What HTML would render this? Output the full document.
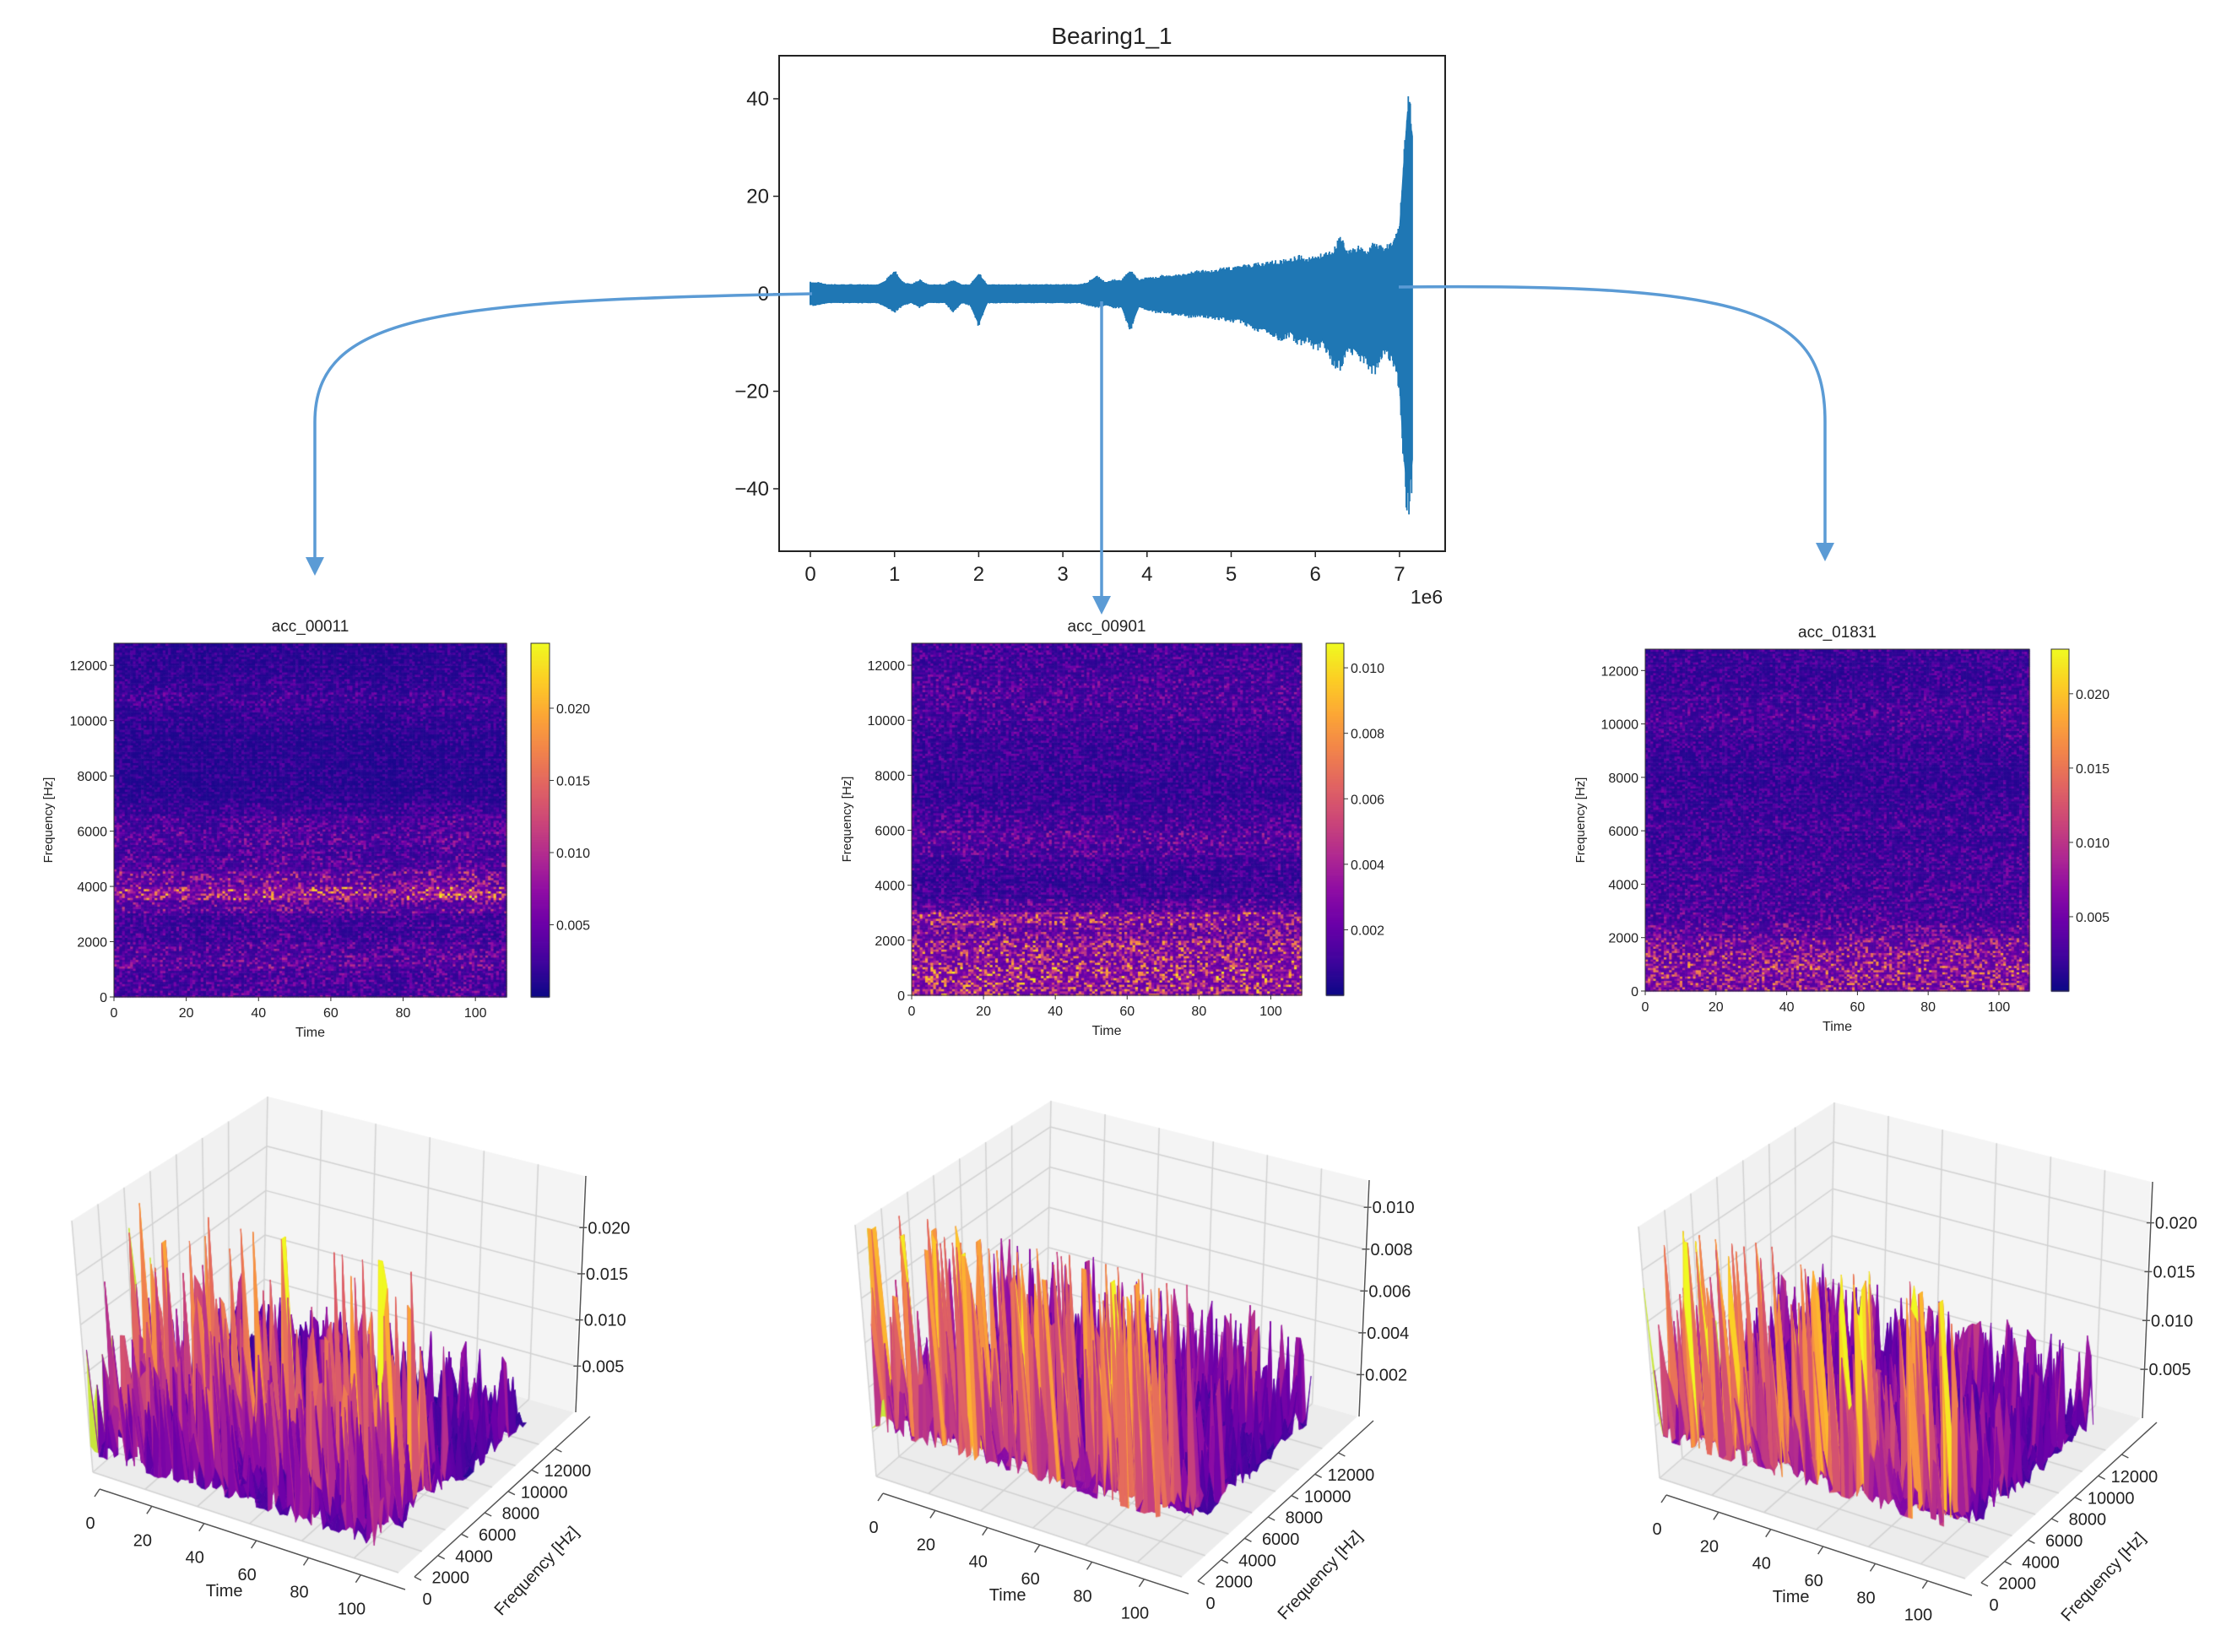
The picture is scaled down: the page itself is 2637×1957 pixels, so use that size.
<!DOCTYPE html>
<html><head><meta charset="utf-8">
<style>
html,body{margin:0;padding:0;background:#fff;}
#wrap{position:relative;width:2637px;height:1957px;overflow:hidden;}
canvas,svg{position:absolute;left:0;top:0;}
text{font-family:"Liberation Sans","DejaVu Sans",sans-serif;fill:#222;}
</style></head>
<body>
<div id="wrap">
<canvas id="cv" width="2637" height="1957"></canvas>
<svg id="sv" width="2637" height="1957" viewBox="0 0 2637 1957"></svg>
</div>
<script>
// ---------- DATA ----------
const sigX     = [0,0.1,0.2,0.3,0.4,0.5,0.6,0.7,0.8,0.9,1.0,1.1,1.2,1.3,1.4,1.5,1.6,1.7,1.8,1.9,2.0,2.1,2.2,2.3,2.4,2.5,2.6,2.7,2.8,2.9,3.0,3.1,3.2,3.3,3.4,3.5,3.6,3.7,3.8,3.9,4.0,4.1,4.2,4.3,4.4,4.5,4.6,4.7,4.8,4.9,5.0,5.1,5.2,5.3,5.4,5.5,5.6,5.7,5.8,5.9,6.0,6.1,6.2,6.3,6.4,6.5,6.6,6.7,6.8,6.9,7.0,7.05,7.1,7.15];
const sigUpper = [2.5,2.5,2,2,2,2,2,2,2,3,5,2.5,2,3,2,2,2,3,2,2,4.5,2,2,2,2,2,2,2,2,2,2,2,2,2.5,4,2.5,3,3,5,3,3.5,3.5,4,4,4,4.5,5,5,5,5.5,5.5,6,6,6.5,6.5,7,7,7.5,8,7.5,8,8.5,9,12,9,10,9,11,10,11,14,30,44,38];
const sigLower = [-2.5,-2.5,-2,-2,-2,-2,-2,-2,-2,-3,-4,-2.5,-2,-3,-2,-2,-2,-4,-2,-2.5,-7,-2,-2,-2,-2,-2,-2,-2,-2,-2,-2,-2,-2,-2.5,-3,-2.5,-3,-3,-8,-3,-3.5,-4,-4,-4.5,-4.5,-5,-5,-5,-5.5,-5.5,-6,-6,-7,-8,-8,-9,-10,-9,-11,-10,-12,-11,-15,-16,-12,-14,-15,-17,-13,-14,-20,-38,-48,-40];
const sigXTicks = [0,1,2,3,4,5,6,7];
const sigYTicks = [40,20,0,-20,-40];

// spectrogram band means (500 Hz bands, 0..13000)
const specProfile1 = [0.0035,0.0035,0.0045,0.004,0.003,0.003,0.005,0.0095,0.006,0.004,0.0035,0.004,0.0035,0.0025,0.0018,0.0016,0.0016,0.0016,0.0016,0.0018,0.0022,0.0028,0.0022,0.0018,0.0017,0.0017];
const specProfile2 = [0.0042,0.0045,0.004,0.004,0.003,0.0038,0.0018,0.0012,0.0011,0.0013,0.0017,0.0019,0.0015,0.0012,0.001,0.001,0.0011,0.0011,0.0011,0.0013,0.0015,0.0016,0.0016,0.0014,0.0013,0.0013];
const specProfile3 = [0.0075,0.008,0.0075,0.0065,0.0045,0.0035,0.003,0.0032,0.0028,0.0028,0.0028,0.0024,0.0028,0.0024,0.0022,0.0022,0.0022,0.0022,0.0024,0.0028,0.0032,0.0028,0.0025,0.0024,0.0024,0.0024];
const specTime1 = [1,1,0.9,1,1.1,1,1,0.9,1,1.1,1];
const specTime2 = [1,1,1,1,1,1,1,1,1,1,1];
const specTime3 = [1,1,1,1,1,1,1,1,1,1,1.05];
const cbTicks1 = [0.005,0.010,0.015,0.020];
const cbTicks2 = [0.002,0.004,0.006,0.008,0.010];
const cbTicks3 = [0.005,0.010,0.015,0.020];
const freqTicks = [0,2000,4000,6000,8000,10000,12000];
const timeTicks = [0,20,40,60,80,100];
const specTitles = ["acc_00011","acc_00901","acc_01831"];

// ---------- helpers ----------
const NS="http://www.w3.org/2000/svg";
const sv=document.getElementById('sv');
const ctx=document.getElementById('cv').getContext('2d');
function mk(tag,attrs,parent){const e=document.createElementNS(NS,tag);for(const k in attrs)e.setAttribute(k,attrs[k]);(parent||sv).appendChild(e);return e;}
function txt(x,y,s,size,anchor,name,extra){
  const e=mk('text',{x:x,y:y,'font-size':size,'text-anchor':anchor||'middle'});
  
  
  if(extra)for(const k in extra)e.setAttribute(k,extra[k]);
  e.textContent=s;return e;}
const plasma=[[13,8,135],[65,4,157],[106,0,168],[143,13,164],[177,42,144],[204,71,120],[225,100,98],[242,132,75],[252,166,54],[252,206,37],[240,249,33]];
function cmap(v){v=Math.max(0,Math.min(1,v));const p=v*10,i=Math.min(9,Math.floor(p)),f=p-i;const a=plasma[i],b=plasma[i+1];
 return 'rgb('+Math.round(a[0]+(b[0]-a[0])*f)+','+Math.round(a[1]+(b[1]-a[1])*f)+','+Math.round(a[2]+(b[2]-a[2])*f)+')';}
function hash(i,j,s){const h=Math.sin(i*127.1+j*311.7+s*74.7)*43758.5453;return h-Math.floor(h);}
function grain(i,j,s){const u=hash(i,j,s);return 0.45+1.9*u*u*u;}
function grain3(i,j,s){const u=hash(i,j,s);return 0.45+3.2*Math.pow(u,5);}
function specVal(prof,tm,t,f){const b=Math.min(prof.length-1,Math.floor(f/500));const k=Math.min(tm.length-1,Math.floor(t/10));return prof[b]*tm[k];}
function interp(xs,ys,x){for(let i=1;i<xs.length;i++){if(x<=xs[i]){const f=(x-xs[i-1])/(xs[i]-xs[i-1]);return ys[i-1]+(ys[i]-ys[i-1])*f;}}return ys[ys.length-1];}

// ---------- top signal plot ----------
const TP={x0:923,y0:66,x1:1712,y1:653};
const px=v=>960+v*99.7, py=v=>348-v*5.775;
const gTop=mk('g',{});
let d='M'+px(sigX[0])+','+py(sigUpper[0]*0.85);
for(let i=1;i<sigX.length;i++)d+=' L'+px(sigX[i])+','+py(sigUpper[i]*0.85);
for(let i=sigX.length-1;i>=0;i--)d+=' L'+px(sigX[i])+','+py(sigLower[i]*0.85);
const sigPath=mk('path',{d:d+'Z',fill:'#1f77b4',stroke:'#1f77b4','stroke-width':2},gTop);


let dl='';
const xEnd=sigX[sigX.length-1];
for(let k=0;k*0.008<=xEnd;k++){const x=k*0.008;const g1=0.8+0.2*hash(k,1,9),g2=0.8+0.2*hash(k,2,9);
  dl+='M'+px(x).toFixed(1)+','+py(interp(sigX,sigUpper,x)*g1).toFixed(1)+'V'+py(interp(sigX,sigLower,x)*g2).toFixed(1);}
const sigLines=mk('path',{d:dl,fill:'none',stroke:'#1f77b4','stroke-width':1.8},gTop);


const fr=mk('rect',{x:TP.x0,y:TP.y0,width:TP.x1-TP.x0,height:TP.y1-TP.y0,fill:'none',stroke:'#222','stroke-width':2},gTop);


sigXTicks.forEach(v=>{mk('line',{x1:px(v),x2:px(v),y1:TP.y1,y2:TP.y1+7,stroke:'#222','stroke-width':1.5},gTop);
  txt(px(v),TP.y1+35,String(v),24,'middle','x-tick-label');});
sigYTicks.forEach(v=>{mk('line',{x1:TP.x0-7,x2:TP.x0,y1:py(v),y2:py(v),stroke:'#222','stroke-width':1.5},gTop);
  txt(TP.x0-12,py(v)+8,(v<0?'\u2212':'')+Math.abs(v),24,'end','y-tick-label');});
txt(1690,715,'1e6',23,'middle','x-offset-label');
txt(1317,52,'Bearing1_1',28,'middle','signal-title');

// ---------- spectrograms ----------
const specs=[
 {x:135,y:762,w:465,h:419,cbx:629,cbw:22,vmax:0.0245,prof:specProfile1,tm:specTime1,ticks:cbTicks1,ty:748,ylx:62,seed:1},
 {x:1080,y:762,w:462,h:417,cbx:1571,cbw:21,vmax:0.01075,prof:specProfile2,tm:specTime2,ticks:cbTicks2,ty:748,ylx:1008,seed:2},
 {x:1949,y:769,w:455,h:405,cbx:2430,cbw:21,vmax:0.023,prof:specProfile3,tm:specTime3,ticks:cbTicks3,ty:755,ylx:1877,seed:3}];
const T_MAX=108.6,F_MAX=12800;
specs.forEach((s,si)=>{
  const tx=t=>s.x+t/T_MAX*s.w, fy=f=>s.y+s.h-f/F_MAX*s.h;
  for(let ti=0;ti<145;ti++)for(let fi=0;fi<160;fi++){
    const t=ti*0.75,f=fi*80;
    const v=specVal(s.prof,s.tm,t,f)*grain(ti,fi,s.seed);
    ctx.fillStyle=cmap(v/s.vmax);
    const x0=tx(t),x1=tx(Math.min(T_MAX,t+0.75)),y1=fy(f),y0=fy(f+80);
    if(x0>=s.x+s.w)continue;
    ctx.fillRect(x0,y0,x1-x0+0.6,y1-y0+0.6);}
  for(let k=0;k<200;k++){ctx.fillStyle=cmap(k/199);ctx.fillRect(s.cbx,s.y+s.h-(k+1)*s.h/200,s.cbw,s.h/200+0.8);}
  const g=mk('g',{});
  mk('rect',{x:s.x,y:s.y,width:s.w,height:s.h,fill:'none',stroke:'#333','stroke-width':1},g);
  mk('rect',{x:s.cbx,y:s.y,width:s.cbw,height:s.h,fill:'none',stroke:'#333','stroke-width':1},g);
  timeTicks.forEach(t=>{mk('line',{x1:tx(t),x2:tx(t),y1:s.y+s.h,y2:s.y+s.h+5,stroke:'#333'},g);
    txt(tx(t),s.y+s.h+24,String(t),16,'middle','spec-time-tick');});
  freqTicks.forEach(f=>{mk('line',{x1:s.x-5,x2:s.x,y1:fy(f),y2:fy(f),stroke:'#333'},g);
    txt(s.x-8,fy(f)+6,String(f),16,'end','spec-freq-tick');});
  s.ticks.forEach(v=>{const y=s.y+s.h-v/s.vmax*s.h;mk('line',{x1:s.cbx+s.cbw,x2:s.cbx+s.cbw+5,y1:y,y2:y,stroke:'#333'},g);
    txt(s.cbx+s.cbw+8,y+6,v.toFixed(3),16,'start','colorbar-tick');});
  txt(s.x+s.w/2,s.ty,specTitles[si],19,'middle','spec-title');
  txt(s.x+s.w/2,s.y+s.h+47,'Time',16,'middle','spec-x-label');
  txt(s.ylx,s.y+s.h/2,'Frequency [Hz]',15,'middle','spec-y-label',{transform:'rotate(-90 '+s.ylx+' '+(s.y+s.h/2)+')'});
});

// ---------- 3D surfaces ----------
const base={F00:[110,1744],F10:[472,1863],F01:[312,1568],F11:[680,1673],T00:[85,1446],T10:[460,1540],T01:[317,1299],T11:[692,1393]};
const T3MAX=117,F3MAX=15000;
const p3=[
 {dx:0,dy:0,zmax:0.0256,cnorm:0.0165,prof:specProfile1,tm:specTime1,ticks:cbTicks1,hmul:1.15,seed:1},
 {dx:928,dy:5,zmax:0.0113,cnorm:0.0085,prof:specProfile2,tm:specTime2,ticks:cbTicks2,hmul:1.15,seed:2},
 {dx:1856,dy:7,zmax:0.0242,cnorm:0.0165,prof:specProfile3,tm:specTime3,ticks:cbTicks3,hmul:1.15,seed:3}];
function bil(A,B,C,D,u,v){return[(1-u)*(1-v)*A[0]+u*(1-v)*B[0]+(1-u)*v*C[0]+u*v*D[0],(1-u)*(1-v)*A[1]+u*(1-v)*B[1]+(1-u)*v*C[1]+u*v*D[1]];}
function P(c,t,f,z){const u=t/T3MAX,v=f/F3MAX,w=z/c.zmax;
  const b=bil(base.F00,base.F10,base.F01,base.F11,u,v),tp=bil(base.T00,base.T10,base.T01,base.T11,u,v);
  return[b[0]+(tp[0]-b[0])*w+c.dx,b[1]+(tp[1]-b[1])*w+c.dy];}
function poly(pts,fill,stroke,lw){ctx.beginPath();ctx.moveTo(pts[0][0],pts[0][1]);for(let i=1;i<pts.length;i++)ctx.lineTo(pts[i][0],pts[i][1]);ctx.closePath();
  if(fill){ctx.fillStyle=fill;ctx.fill();}if(stroke){ctx.strokeStyle=stroke;ctx.lineWidth=lw||1;ctx.stroke();}}
function seg(a,b,col,lw){ctx.beginPath();ctx.moveTo(a[0],a[1]);ctx.lineTo(b[0],b[1]);ctx.strokeStyle=col;ctx.lineWidth=lw||1;ctx.stroke();}
p3.forEach((c,ci)=>{
  const Z=c.zmax;
  poly([P(c,0,0,0),P(c,0,F3MAX,0),P(c,0,F3MAX,Z),P(c,0,0,Z)],'#f1f1f1');
  poly([P(c,0,F3MAX,0),P(c,T3MAX,F3MAX,0),P(c,T3MAX,F3MAX,Z),P(c,0,F3MAX,Z)],'#f4f4f4');
  poly([P(c,0,0,0),P(c,T3MAX,0,0),P(c,T3MAX,F3MAX,0),P(c,0,F3MAX,0)],'#ececec');
  const gc='#d2d2d2';
  timeTicks.forEach(t=>{seg(P(c,t,F3MAX,0),P(c,t,F3MAX,Z),gc,1.5);seg(P(c,t,0,0),P(c,t,F3MAX,0),gc,1.5);});
  freqTicks.forEach(f=>{seg(P(c,0,f,0),P(c,0,f,Z),gc,1.5);seg(P(c,0,f,0),P(c,T3MAX,f,0),gc,1.5);});
  c.ticks.forEach(z=>{seg(P(c,0,0,z),P(c,0,F3MAX,z),gc,1.5);seg(P(c,0,F3MAX,z),P(c,T3MAX,F3MAX,z),gc,1.5);});
  const nt=74,nf=43,H=[];
  for(let i=0;i<nt;i++){H[i]=[];for(let j=0;j<nf;j++){const t=i*1.5,f=j*300;
    H[i][j]=Math.min(Z*0.97,specVal(c.prof,c.tm,t,f)*c.hmul*grain3(i,j,c.seed+10));}}
  for(let j=nf-2;j>=0;j--)for(let i=0;i<nt-1;i++){
    const t0=i*1.5,t1=(i+1)*1.5,f0=j*300,f1=(j+1)*300;
    const pts=[P(c,t0,f0,H[i][j]),P(c,t1,f0,H[i+1][j]),P(c,t1,f1,H[i+1][j+1]),P(c,t0,f1,H[i][j+1])];
    const avg=(H[i][j]+H[i+1][j]+H[i+1][j+1]+H[i][j+1])/4;
    let col=cmap(avg/c.cnorm);
    if(i===0&&j<24)col='rgb(200,230,60)';
    poly(pts,col,col,0.7);}
  const g=mk('g',{});
  const ta=P(c,0,0,0),tb=P(c,T3MAX,0,0);
  mk('line',{x1:ta[0]+8,y1:ta[1]+20,x2:tb[0]+8,y2:tb[1]+20,stroke:'#555','stroke-width':1.5},g);
  timeTicks.forEach(t=>{const q=P(c,t,0,0);mk('line',{x1:q[0]+8,y1:q[1]+20,x2:q[0]+2,y2:q[1]+29,stroke:'#555','stroke-width':1.5},g);
    txt(q[0]-3,q[1]+67,String(t),20,'middle','surface-time-tick');});
  const fa=P(c,T3MAX,0,0),fb=P(c,T3MAX,F3MAX,0);
  mk('line',{x1:fa[0]+19,y1:fa[1]+5,x2:fb[0]+19,y2:fb[1]+5,stroke:'#555','stroke-width':1.5},g);
  freqTicks.forEach(f=>{const q=P(c,T3MAX,f,0);mk('line',{x1:q[0]+19,y1:q[1]+5,x2:q[0]+27,y2:q[1]+9,stroke:'#555','stroke-width':1.5},g);
    txt(q[0]+34,q[1]+38,String(f),20,'middle','surface-freq-tick');});
  const za=P(c,T3MAX,F3MAX,0),zb=P(c,T3MAX,F3MAX,Z);
  mk('line',{x1:za[0]+2,y1:za[1],x2:zb[0]+2,y2:zb[1],stroke:'#555','stroke-width':1.5},g);
  c.ticks.forEach(z=>{const q=P(c,T3MAX,F3MAX,z);mk('line',{x1:q[0]-3,y1:q[1],x2:q[0]+6,y2:q[1],stroke:'#555','stroke-width':1.5},g);
    txt(q[0]+7,q[1]+7,z.toFixed(3),20,'start','surface-z-tick');});
  const tl=P(c,60,0,0);txt(tl[0]-30,tl[1]+86,'Time',20,'middle','surface-time-label');
  const fl=P(c,T3MAX,5500,0);txt(fl[0]+92,fl[1]+72,'Frequency [Hz]',20,'middle','surface-freq-label',{transform:'rotate(-47 '+(fl[0]+92)+' '+(fl[1]+72)+')'});
});

// ---------- arrows ----------
const AC='#5b9bd5';
const arrows=[
 {d:'M962,348 C520,356 373,372 373,500 L373,662',tip:[373,682]},
 {d:'M1305,357 L1305,708',tip:[1305,728]},
 {d:'M1657,340 C2080,335 2162,370 2162,500 L2162,645',tip:[2162,665]}];
arrows.forEach((a,i)=>{
  const g=mk('g',{});
  mk('path',{d:a.d,fill:'none',stroke:AC,'stroke-width':3.5},g);
  mk('polygon',{points:(a.tip[0]-11)+','+(a.tip[1]-22)+' '+(a.tip[0]+11)+','+(a.tip[1]-22)+' '+a.tip[0]+','+a.tip[1],fill:AC},g);
});
</script>
</body></html>
